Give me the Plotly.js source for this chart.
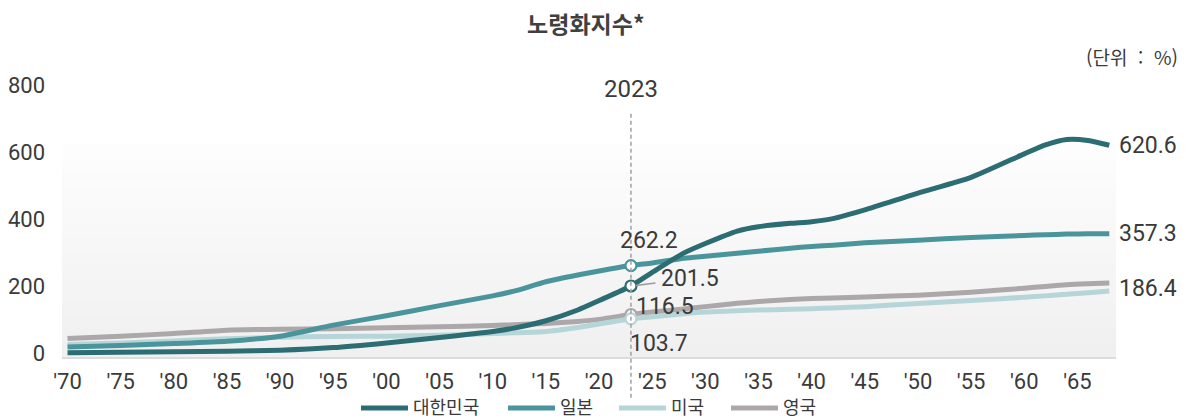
<!DOCTYPE html>
<html lang="ko">
<head>
<meta charset="utf-8">
<script src="https://cdn.plot.ly/plotly-3.0.1.min.js"></script>
<style>
  html, body { margin: 0; padding: 0; background: #ffffff; }
  #chart { width: 1194px; height: 419px; }
</style>
</head>
<body>
<div id="chart"></div>
<script>
// 노령화지수 (65세 이상 인구 / 0~14세 인구 × 100)
const years = [1970, 1975, 1980, 1985, 1990, 1995, 2000, 2005, 2010, 2012, 2015, 2018, 2020, 2023,
               2025, 2028, 2030, 2033, 2035, 2038, 2040, 2042, 2045, 2050, 2055, 2060, 2062, 2064, 2066, 2068];
const korea = [3, 4, 6, 7, 10, 18, 32, 48, 66, 76, 98, 130, 158, 201.5,
               242, 300, 328, 365, 378, 388, 393, 402, 428, 478, 525, 595, 622, 638, 635, 620.6];
const japan = [20, 24, 30, 37, 52, 85, 113, 143, 172, 186, 214, 234, 246, 262.2,
               270, 284, 290, 299, 305, 314, 319, 323, 330, 338, 346, 352, 354, 356, 357, 357.3];
const usa   = [27, 32, 38, 44, 49, 51, 52, 55, 60, 62, 66, 78, 88, 103.7,
               110, 119, 124, 128, 130, 132, 134, 136, 140, 149, 158, 168, 172, 177, 181, 186.4];
const uk    = [45, 52, 60, 70, 73, 74, 77, 80, 84, 86, 90, 96, 102, 116.5,
               124, 133, 140, 150, 155, 161, 164, 166, 169, 174, 183, 195, 200, 205, 208, 210];

const seriesNames = ['대한민국', '일본', '미국', '영국'];
const tickYears = [1970, 1975, 1980, 1985, 1990, 1995, 2000, 2005, 2010, 2015,
                   2020, 2025, 2030, 2035, 2040, 2045, 2050, 2055, 2060, 2065];
const tickText = tickYears.map(y => "'" + String(y).slice(2));
const markYear = 2023;

const NUM_FONT = "Roboto, 'Noto Sans CJK KR', sans-serif";
const KR_FONT = "'Noto Sans CJK KR', sans-serif";
const TEXT = '#3a3a3a';
const seriesColors = ['#2c6c73', '#4a959b', '#b6d5d9', '#aca7a8'];
const seriesValues = [korea, japan, usa, uk];

const idx = years.indexOf(markYear);
const lastYear = years[years.length - 1];
const lastIdx = years.length - 1;

function lineTrace(i) {
  return {
    x: years, y: seriesValues[i], name: seriesNames[i], type: 'scatter', mode: 'lines',
    line: { color: seriesColors[i], width: 5, shape: 'spline', smoothing: 0.6 },
    hoverinfo: 'skip', showlegend: false
  };
}
function markTrace(i) {
  return {
    x: [markYear], y: [seriesValues[i][idx]], type: 'scatter', mode: 'markers', showlegend: false,
    marker: { size: 11, color: '#ffffff', line: { color: seriesColors[i], width: 2.2 } },
    hoverinfo: 'skip'
  };
}

// draw order: 영국, 미국, 일본, 대한민국 (dark line on top)
const order = [3, 2, 1, 0];
const data = order.map(lineTrace).concat(order.map(markTrace));

// soft vertical gradient behind the lines
const shapes = [];
const bandTop = 0.779, bands = 30;
for (let i = 0; i < bands; i++) {
  const t = i / (bands - 1);
  const c = Math.round(240 + (253 - 240) * t);
  shapes.push({
    type: 'rect', xref: 'paper', yref: 'paper', layer: 'below',
    x0: 0, x1: 1, y0: bandTop * i / bands, y1: bandTop * (i + 1) / bands + 0.002,
    fillcolor: `rgb(${c},${c},${c})`, line: { width: 0 }
  });
}
// 2023 reference line
shapes.push({
  type: 'line', xref: 'x', yref: 'paper', layer: 'above',
  x0: markYear, x1: markYear, y0: -0.15, y1: 0.905,
  line: { color: '#a0a0a0', width: 1.5, dash: '4px,3px' }
});

const numFont = (size) => ({ family: NUM_FONT, size: size, color: TEXT });

const annotations = [
  { xref: 'x', yref: 'paper', x: markYear, y: 0.985, text: String(markYear), showarrow: false,
    font: numFont(24), xanchor: 'center', yanchor: 'middle' },
  { xref: 'paper', yref: 'paper', x: 1.0607, y: 1.103, text: '(단위\u00a0\u00a0:\u00a0\u00a0%)', showarrow: false,
    font: { family: KR_FONT, size: 19, color: TEXT }, xanchor: 'right', yanchor: 'middle' },
  // values at 2023
  { x: markYear, y: japan[idx], text: String(japan[idx]), showarrow: false,
    font: numFont(23), xanchor: 'center', yanchor: 'middle', xshift: 18, yshift: 25 },
  { x: markYear, y: korea[idx], text: String(korea[idx]), showarrow: true, arrowhead: 0,
    arrowwidth: 1.5, arrowcolor: '#9a9a9a', ax: 59, ay: -7, standoff: 5, borderpad: 5,
    font: numFont(23) },
  { x: markYear, y: uk[idx], text: String(uk[idx]), showarrow: false,
    font: numFont(23), xanchor: 'center', yanchor: 'middle', xshift: 34, yshift: 8 },
  { x: markYear, y: usa[idx], text: usa[idx].toFixed(1), showarrow: false,
    font: numFont(23), xanchor: 'center', yanchor: 'middle', xshift: 28, yshift: -25 },
  // end values
  { x: lastYear, y: korea[lastIdx], text: korea[lastIdx].toFixed(1), showarrow: false,
    font: numFont(23), xanchor: 'left', yanchor: 'middle', xshift: 8 },
  { x: lastYear, y: japan[lastIdx], text: japan[lastIdx].toFixed(1), showarrow: false,
    font: numFont(23), xanchor: 'left', yanchor: 'middle', xshift: 8 },
  { x: lastYear, y: usa[lastIdx], text: usa[lastIdx].toFixed(1), showarrow: false,
    font: numFont(23), xanchor: 'left', yanchor: 'middle', xshift: 8, yshift: 3 }
];

// legend row below the axis: a thick line sample followed by the series name
const plotL = 62, plotW = 1054, plotB = 357, plotH = 272;
const px = (v) => (v - plotL) / plotW;
const py = (v) => (plotB - v) / plotH;
const legendLineX = [361, 508, 619, 731];
const legendY = 408;
seriesNames.forEach((name, i) => {
  shapes.push({
    type: 'line', xref: 'paper', yref: 'paper', layer: 'above',
    x0: px(legendLineX[i]), x1: px(legendLineX[i] + 47), y0: py(legendY), y1: py(legendY),
    line: { color: seriesColors[i], width: 5 }
  });
  annotations.push({
    xref: 'paper', yref: 'paper', x: px(legendLineX[i] + 50), y: py(legendY - 2),
    text: name, showarrow: false, xanchor: 'left', yanchor: 'middle',
    font: { family: KR_FONT, size: 18, color: TEXT }
  });
});

const layout = {
  width: 1194, height: 419,
  margin: { l: 62, r: 78, t: 85, b: 62 },
  paper_bgcolor: '#ffffff', plot_bgcolor: 'rgba(0,0,0,0)',
  title: {
    text: '<b>노령화지수*</b>', font: { family: KR_FONT, size: 23, color: '#404040' },
    x: 0.497, xref: 'paper', xanchor: 'center', y: 0.94, yanchor: 'middle'
  },
  xaxis: {
    range: [1969.48, 2068.63], tickmode: 'array', tickvals: tickYears, ticktext: tickText,
    showgrid: false, zeroline: false, showline: true, linecolor: '#dcdcdc', linewidth: 2,
    ticks: '', tickfont: numFont(22), ticklabelstandoff: 4, automargin: false
  },
  yaxis: {
    range: [-10, 800], tickvals: [0, 200, 400, 600, 800], showgrid: false, zeroline: false,
    showline: false, ticks: '', tickfont: numFont(22), ticklabelstandoff: 16, automargin: false
  },
  showlegend: false,
  shapes: shapes,
  annotations: annotations
};

Plotly.newPlot('chart', data, layout, { staticPlot: true, displayModeBar: false });
</script>
</body>
</html>
